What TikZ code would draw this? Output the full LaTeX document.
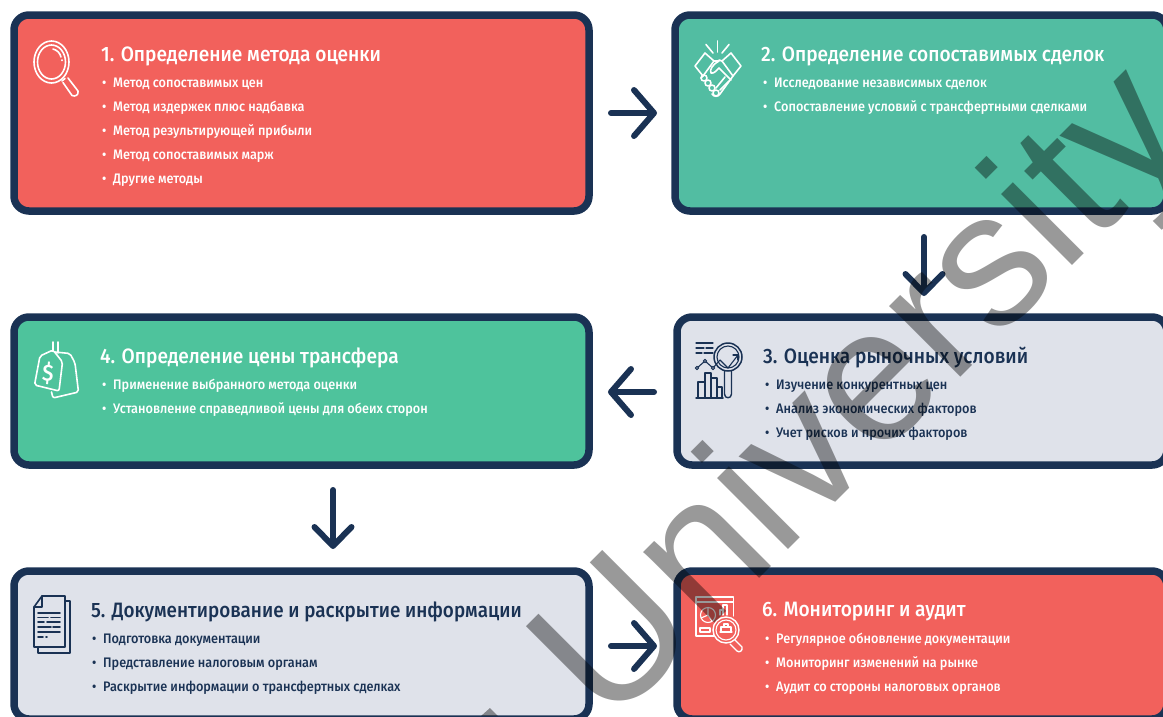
\documentclass[tikz,border=0pt]{standalone}
\usepackage{fontspec}
\setmainfont{Fira Sans Medium}[FakeStretch=0.92]
\newfontfamily\wmfont{Liberation Sans}
\usetikzlibrary{arrows.meta}
\definecolor{navy}{HTML}{1A3254}
\definecolor{redbox}{HTML}{F2615C}
\definecolor{tealbox}{HTML}{52BDA2}
\definecolor{greenbox}{HTML}{4EC39C}
\definecolor{greybox}{HTML}{DFE2EA}
\tikzset{
  x=1pt,y=-1pt,
  card/.style={draw=navy,line width=7.5pt,rounded corners=15pt,anchor=north west,inner sep=0pt,outer sep=0pt},
  flow/.style={draw=navy,line width=6pt,line cap=round,line join=round,-{Straight Barb[length=20pt,width=46pt,round,line width=6pt]}},
  flowdown/.style={draw=navy,line width=6pt,line cap=round,line join=round,-{Straight Barb[length=19pt,width=37pt,round,line width=6pt]}},
  ttl/.style={anchor=west,inner sep=0pt,font=\fontsize{20.8}{21}\selectfont},
  itm/.style={anchor=west,inner sep=0pt,font=\fontsize{13.8}{13}\selectfont},
  ico/.style={line width=1.6pt,line cap=round,line join=round},
  icothin/.style={line width=1.1pt,line cap=round,line join=round},
}
\newcommand{\bul}{\makebox[11pt][l]{\textbullet}}
\begin{document}
\begin{tikzpicture}
\useasboundingbox (0,0) rectangle (1163,716);
\clip (0,0) rectangle (1163,716);
\node[card,fill=redbox,minimum width=575pt,minimum height=196pt] (b1) at (14,15) {};
\node[card,fill=tealbox,minimum width=492pt,minimum height=196pt] (b2) at (675,15) {};
\node[card,fill=greybox,minimum width=490pt,minimum height=148pt] (b3) at (677,317) {};
\node[card,fill=greenbox,minimum width=575pt,minimum height=148pt] (b4) at (14,317) {};
\node[card,fill=greybox,minimum width=575pt,minimum height=148pt] (b5) at (14,571) {};
\node[card,fill=redbox,minimum width=490pt,minimum height=148pt] (b6) at (677,571) {};
\coordinate (a1s) at (611,113); \coordinate (a1e) at (657,113);
\coordinate (a2s) at (924,237); \coordinate (a2e) at (924,296);
\coordinate (a3s) at (654,392); \coordinate (a3e) at (608,392);
\coordinate (a4s) at (333,490); \coordinate (a4e) at (333,549);
\coordinate (a5s) at (611,646); \coordinate (a5e) at (657,646);
\draw[flow] (a1s) -- (a1e);
\draw[flowdown] (a2s) -- (a2e);
\draw[flow] (a3s) -- (a3e);
\draw[flowdown] (a4s) -- (a4e);
\draw[flow] (a5s) -- (a5e);
% text
\begin{scope}[text=white]
\node[ttl] (t1) at (101,56) {1. Определение метода оценки};
\node[itm] (i11) at (102,84) {\bul Метод сопоставимых цен};
\node[itm] (i12) at (102,108) {\bul Метод издержек плюс надбавка};
\node[itm] (i13) at (102,132) {\bul Метод результирующей прибыли};
\node[itm] (i14) at (102,156) {\bul Метод сопоставимых марж};
\node[itm] (i15) at (102,180) {\bul Другие методы};
\node[ttl] (t2) at (761,56) {2. Определение сопоставимых сделок};
\node[itm] (i21) at (763,84) {\bul Исследование независимых сделок};
\node[itm] (i22) at (763,108) {\bul Сопоставление условий с трансфертными сделками};
\node[ttl] (t4) at (100,358) {4. Определение цены трансфера};
\node[itm] (i41) at (102,386) {\bul Применение выбранного метода оценки};
\node[itm] (i42) at (102,410) {\bul Установление справедливой цены для обеих сторон};
\node[ttl] (t6) at (762,612) {6. Мониторинг и аудит};
\node[itm] (i61) at (765,640) {\bul Регулярное обновление документации};
\node[itm] (i62) at (765,664) {\bul Мониторинг изменений на рынке};
\node[itm] (i63) at (765,688) {\bul Аудит со стороны налоговых органов};
\end{scope}
\begin{scope}[text=navy]
\node[ttl] (t3) at (763,358) {3. Оценка рыночных условий};
\node[itm] (i31) at (765,386) {\bul Изучение конкурентных цен};
\node[itm] (i32) at (765,410) {\bul Анализ экономических факторов};
\node[itm] (i33) at (765,434) {\bul Учет рисков и прочих факторов};
\node[ttl,xscale=0.985] (t5) at (91,612) {5. Документирование и раскрытие информации};
\node[itm] (i51) at (92,640) {\bul Подготовка документации};
\node[itm] (i52) at (92,664) {\bul Представление налоговым органам};
\node[itm] (i53) at (92,688) {\bul Раскрытие информации о трансфертных сделках};
\end{scope}
% icon 1: magnifier
\begin{scope}[ico,draw=white]
\draw (51.5,62) ellipse[x radius=17.5,y radius=21];
\draw (51.5,62) ellipse[x radius=14,y radius=17];
\draw (53,49) .. controls (57,50) and (60,53) .. (61,57);
\draw (62,60) -- (62,60.5);
\draw (62,81) -- (65,78.5);
\draw (68,78) -- (78,91) .. controls (79,95) and (75,97) .. (72,95.5) -- (63,82.5);
\end{scope}
% icon 2: handshake
\begin{scope}[ico,draw=white]
\draw (717.5,41) -- (717.5,52);
\draw (706,44.5) -- (713,53);
\draw (729,44.5) -- (722,53);
\draw (695,66) -- (705,53) -- (714,61) -- (703,76) -- cycle;
\draw (741,66) -- (731,53) -- (722,61) -- (733,76) -- cycle;
\draw (714,61) -- (719,61) .. controls (713,64) and (709,70) .. (711,73) .. controls (714,74) and (717,70) .. (719,68) -- (731,80);
\draw (722,61) -- (719,60);
\draw (733,76) -- (720,94) .. controls (718,97) and (714,97) .. (712,94);
\draw (703,76) -- (701,78);
\draw (704,78) circle[radius=3];
\draw (708,83) circle[radius=3];
\draw (712,88) circle[radius=3];
\draw (716,93) circle[radius=3];
\draw (725,77) -- (716,88);
\draw (729,81) -- (720,90);
\end{scope}
% icon 3: market chart
\begin{scope}[icothin,draw=navy]
\draw[line width=1.3pt] (696,343) -- (713,343);
\draw[line width=1.3pt] (696,348) -- (704,348) (706,348) -- (713,348);
\draw[line width=1.3pt] (696,353) -- (702,353) (704,353) -- (713,353);
\draw[line width=1.5pt] (728,357) circle[radius=14];
\draw (728,357) circle[radius=11];
\draw[line width=1.4pt] (724.5,371) -- (724.5,394) .. controls (724.5,399) and (731.5,399) .. (731.5,394) -- (731.5,371);
\draw (697,368) -- (705,361) -- (713,368) -- (720,360) -- (728,368) -- (738,355);
\draw (733,355) -- (738,355) -- (738,360);
\draw[fill=greybox] (697,368) circle[radius=1.7];
\draw[fill=greybox] (705,361) circle[radius=1.7];
\draw[fill=greybox] (713,368) circle[radius=1.7];
\draw[line width=1.5pt] (696,398) -- (723,398);
\draw[line width=1.4pt] (698,398) -- (698,382) -- (705,382) -- (705,398);
\draw[line width=1.4pt] (705,382) -- (705,373) -- (711,373) -- (711,398);
\draw[line width=1.4pt] (711,378) -- (717,378) -- (717,398);
\draw[line width=1.4pt] (717,387) -- (722,387) -- (722,398);
\end{scope}
% icon 4: price tags
\begin{scope}[ico,draw=white,rounded corners=2pt]
\draw (55,352) -- (70,353.5) -- (75,363) -- (78.5,392) -- (53,398) -- (51.5,392);
\draw (40,356) -- (53,350) -- (62.5,362) -- (59,391) -- (34.5,385) -- cycle;
\draw (53,342) -- (53,351) (58,342) -- (58,353);
\end{scope}
\node[inner sep=0pt,text=white,rotate=-5,font=\fontsize{23}{23}\selectfont] (dollar) at (48,373) {\$};
% icon 5: document
\begin{scope}[ico,draw=navy]
\draw (42,596) -- (65,596) -- (65,647) -- (34,647) -- (34,607) -- cycle;
\draw (34,607) -- (42,607) -- (42,596);
\draw (65,601) -- (70,601) -- (70,653) -- (38,653) -- (38,647);
\draw (38,613) -- (60,613) (38,617.5) -- (48,617.5) (51,617.5) -- (60,617.5) (38,622) -- (44,622) (47,622) -- (60,622) (38,627) -- (51,627) (53,627) -- (60,627) (38,632) -- (60,632) (38,637) -- (43,637) (46,637) -- (47,637);
\end{scope}
% icon 6: monitoring
\begin{scope}[icothin,draw=white]
\draw[line width=1.4pt] (714,636) -- (696,636) -- (696,597) -- (733.5,597) -- (733.5,616);
\draw (696,602) -- (733.5,602);
\draw (708,615) circle[radius=7.5];
\draw (708,615) -- (708,607.5) (708,615) -- (701,618) (708,615) -- (712,621);
\draw (720,615) -- (720,610) -- (723,610) -- (723,615) (723,612) -- (723,605) -- (727,605) -- (727,615);
\draw (700,628) rectangle (710,632);
\draw[line width=1.4pt] (726,630) circle[radius=13];
\draw (726,630) circle[radius=10];
\draw (720,632) -- (732,632) (721,632) -- (721,627) -- (731,627) -- (731,632) (724,627) -- (724,624) -- (728,624) -- (728,627);
\draw[line width=1.4pt] (735,640) -- (742,647) .. controls (743,651) and (739,653) .. (737,651) -- (730,644);
\end{scope}
% watermark
\node[anchor=base west,rotate=45,font=\wmfont\fontsize{190}{190}\selectfont,text=black,text opacity=0.4,inner sep=0pt] (wm) at (608,730) {University};
\fill[black,opacity=0.4] (481,716) -- (490,708) -- (498,716) -- cycle;
\end{tikzpicture}
\end{document}
